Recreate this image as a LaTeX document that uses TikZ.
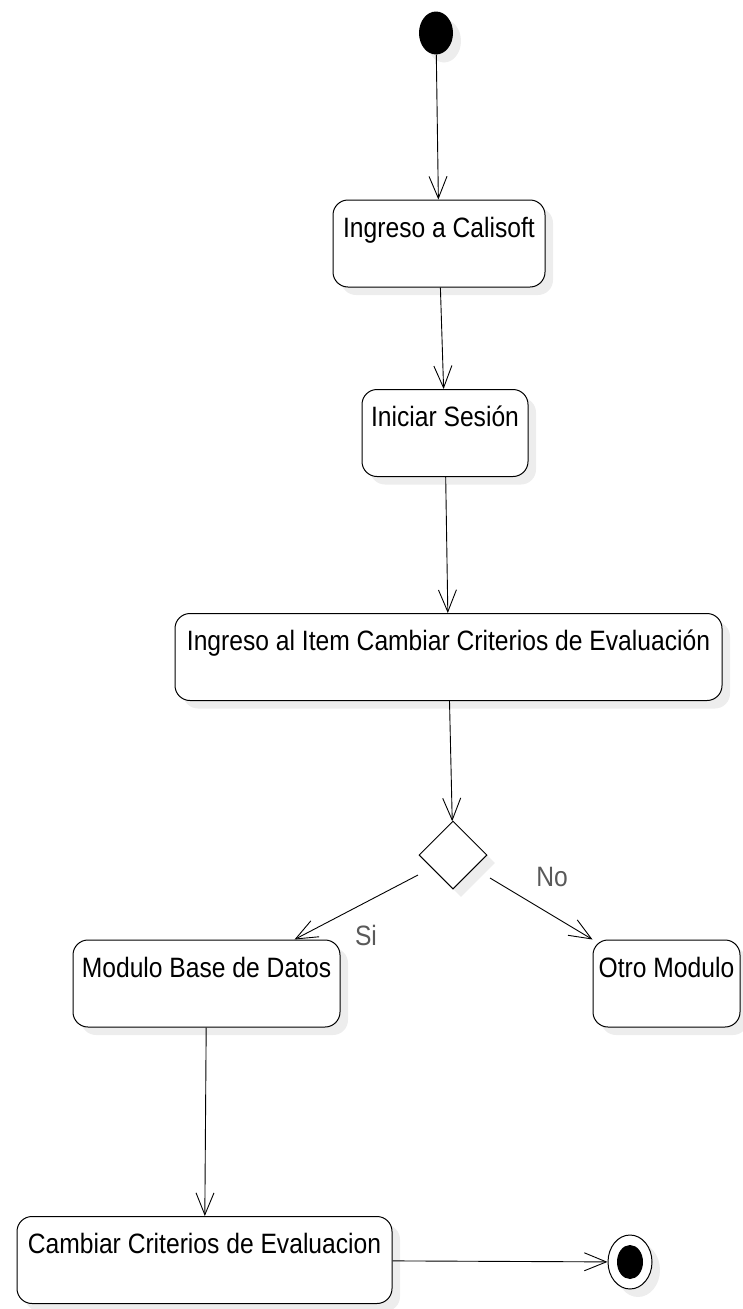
\documentclass[tikz,border=0pt]{standalone}
\usepackage{fontspec}
\setmainfont{Liberation Sans}
\usetikzlibrary{arrows.meta,shapes.geometric,shadows}

\tikzset{
  sombra/.style={drop shadow={shadow xshift=8pt, shadow yshift=-8pt, fill=black!7, opacity=1}},
  actividad/.style={draw, line width=1pt, rounded corners=15pt, fill=white, sombra,
    inner sep=0pt, text height=37pt, text depth=50pt, font=\fontsize{28}{30}\selectfont},
  etiqueta/.style={text=black!65, font=\fontsize{28}{30}\selectfont},
  flecha/.style={line width=0.9pt, -{Straight Barb[length=22pt, width=18pt]}},
}
\newcommand{\estrecho}[1]{\scalebox{0.88}[1]{#1}}

\begin{document}
\begin{tikzpicture}[x=1pt, y=-1pt]
    \useasboundingbox (0, 0) rectangle (742, 1309);

    % inicio y fin
    \node[ellipse, fill=black, sombra, minimum width=34pt, minimum height=43pt, inner sep=0pt] (inicio) at (436, 33) {};
    \node[ellipse, draw, fill=white, sombra, line width=1pt, minimum width=44pt, minimum height=54pt, inner sep=0pt] (fin) at (630, 1262) {};
    \node[ellipse, fill=black, minimum width=26pt, minimum height=34pt, inner sep=0pt] (fincentro) at (fin) {};

    % actividades
    \node[actividad, minimum width=212pt] (calisoft) at (439, 243.5) {\estrecho{Ingreso a Calisoft}};
    \node[actividad, minimum width=166pt] (sesion) at (445, 433) {\estrecho{Iniciar Sesión}};
    \node[actividad, minimum width=547pt] (item) at (448.5, 657) {\estrecho{Ingreso al Item Cambiar Criterios de Evaluación}};
    \node[actividad, minimum width=267pt] (modbd) at (206.5, 983.5) {\estrecho{Modulo Base de Datos}};
    \node[actividad, minimum width=147pt] (otro) at (666.5, 983.5) {\estrecho{Otro Modulo}};
    \node[actividad, minimum width=375pt] (cambiar) at (204.5, 1260) {\estrecho{Cambiar Criterios de Evaluacion}};

    % decision
    \node[diamond, draw, fill=white, sombra, line width=1pt, minimum width=68pt, minimum height=68pt, inner sep=0pt] (decision) at (453, 855) {};
    \node[etiqueta] (si) at (366, 935) {\estrecho{Si}};
    \node[etiqueta] (no) at (552, 877) {\estrecho{No}};

    % flujo
    \draw[flecha] (inicio) -- (calisoft);
    \draw[flecha] (calisoft) -- (sesion);
    \draw[flecha] (sesion) -- (item);
    \draw[flecha] (item) -- (decision);
    \draw[flecha] ([shift={(-35, 20)}]decision.center) -- ([shift={(88, 0)}]modbd.north);
    \draw[flecha] ([shift={(37, 23)}]decision.center) -- (otro.north west);
    \draw[flecha] (modbd) -- (cambiar);
    \draw[flecha] (cambiar) -- (fin);
\end{tikzpicture}
\end{document}
